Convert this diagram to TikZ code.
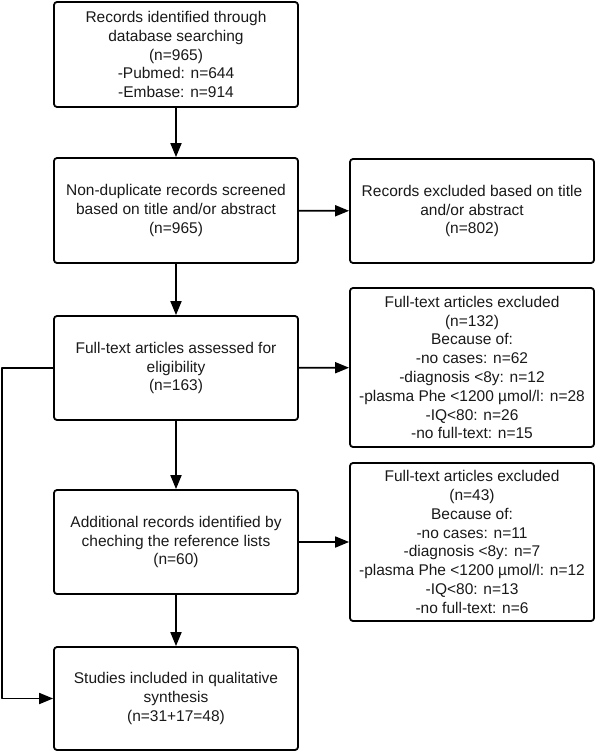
\documentclass[tikz,border=0pt]{standalone}
\usepackage{fontspec}
\setmainfont{Liberation Sans}
\usetikzlibrary{arrows.meta}

\begin{document}
\begin{tikzpicture}[line cap=round,line join=round,x=1pt,y=-1pt,
  box/.style={draw, line width=1.8pt, rounded corners=3pt, align=center,
    minimum width=244pt, minimum height=104pt, inner sep=0pt,
    text=black!90, font=\fontsize{15.5}{18.8}\selectfont},
  arr/.style={-{Stealth[length=14pt,width=11pt,inset=0pt]}, line width=1.8pt}]
\useasboundingbox (0,0) rectangle (596,754);
% left column
\node[box, minimum height=105pt] (ident) at (176,54.5) {Records identified through\\database searching\\(n=965)\\-Pubmed: n=644\\-Embase: n=914};
\node[box, minimum height=105pt] (screen) at (176,210.5) {Non-duplicate records screened\\based on title and/or abstract\\(n=965)};
\node[box] (elig) at (176,368) {Full-text articles assessed for\\eligibility\\(n=163)};
\node[box] (addit) at (176,542) {Additional records identified by\\cheching the reference lists\\(n=60)};
\node[box, minimum height=103pt] (incl) at (176,698.5) {Studies included in qualitative\\synthesis\\(n=31+17=48)};
% right column
\node[box] (excl) at (472,211) {Records excluded based on title\\and/or abstract\\(n=802)};
\node[box, minimum height=159pt] (fullexcl) at (472,367.5) {Full-text articles excluded\\(n=132)\\Because of:\\-no cases: n=62\\-diagnosis <8y: n=12\\-plasma Phe <1200 µmol/l: n=28\\-IQ<80: n=26\\-no full-text: n=15};
\node[box, minimum height=158pt] (refexcl) at (472,542) {Full-text articles excluded\\(n=43)\\Because of:\\-no cases: n=11\\-diagnosis <8y: n=7\\-plasma Phe <1200 µmol/l: n=12\\-IQ<80: n=13\\-no full-text: n=6};
% arrows
\draw[arr] (ident) -- (screen);
\draw[arr] (screen) -- (elig);
\draw[arr] (elig) -- (addit);
\draw[arr] (addit) -- (incl);
\draw[arr] (screen) -- (excl);
\draw[arr] (elig) -- (fullexcl);
\draw[arr] (addit) -- (refexcl);
\draw[arr] (elig.west) -- ++(-51,0) |- (incl.west);
\end{tikzpicture}
\end{document}
